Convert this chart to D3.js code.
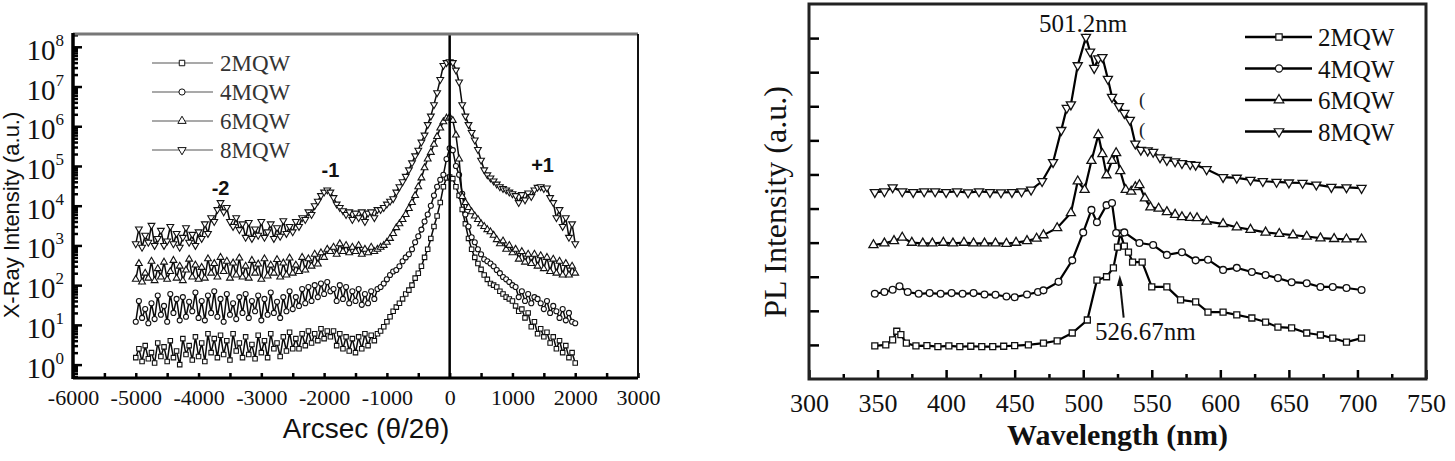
<!DOCTYPE html>
<html>
<head>
<meta charset="utf-8">
<script src="https://cdn.jsdelivr.net/npm/d3@7"></script>
<style>
  body { margin: 0; background: #fff; }
  svg { display: block; }
</style>
</head>
<body>
<svg id="chart" width="1455" height="461"></svg>
<script>
// ---------- left panel: XRD scans (arcsec vs intensity, log) ----------
const arcsec = [
  -5000,-4950,-4900,-4850,-4800,-4750,-4700,-4650,-4600,-4550,-4500,-4450,-4400,-4350,-4300,-4250,-4200,-4150,-4100,-4050,-4000,
  -3950,-3900,-3850,-3800,-3750,-3700,-3650,-3600,-3550,-3500,-3450,-3400,-3350,-3300,
  -3250,-3200,-3150,-3100,-3050,-3000,-2950,-2900,-2850,-2800,-2750,-2700,-2650,-2600,-2550,-2500,
  -2450,-2400,-2350,-2300,-2250,-2200,-2150,-2100,-2050,-2000,-1950,-1900,
  -1850,-1800,-1750,-1700,-1650,-1600,-1550,-1500,-1450,-1400,-1350,-1300,-1250,-1200,-1150,-1100,
  -1050,-1000,-950,-900,-850,-800,-750,-700,-650,-600,-550,-500,-450,-400,-350,-300,-250,-200,-150,-100,-50,0,
  50,100,150,200,250,300,350,400,450,500,550,600,650,700,750,800,850,900,950,1000,
  1050,1100,1150,1200,1250,1300,1350,1400,1450,1500,1550,1600,1650,1700,1750,1800,1850,1900,1950,2000
];
const xrd2 = [
  1.5,2.5,1.2,3,1.4,2,1.1,3.5,1.6,2.8,1.2,4,1.5,2.2,1,4.5,1.8,3,1.3,5,1.6,
  3.5,1.2,6,2,4.5,1.5,5.5,1.8,4,1.3,6,2.2,3.5,1.5,
  5,1.8,3.2,1.4,5.5,2,4,1.5,6,2.5,3.5,1.6,5,2.2,6.5,2.5,
  4.5,2.5,6,3,7,3.5,6,4,8,4.5,7,5,
  7,3,6,2.5,5,2.2,4.5,2,5,2.5,6,3,5.5,4,6,7,
  9,12,16,22,28,35,45,60,75,100,150,200,300,500,800,1.5e3,3e3,5.5e3,1.2e4,3e4,5e4,5.3e4,
  4.8e4,3e4,1.8e4,8e3,3.5e3,1.5e3,800,500,350,250,180,140,110,100,90,70,60,50,45,40,
  30,22,25,15,20,9,12,6,8,5,6.5,3.5,5,2.5,4,2,3,1.5,2,1.1
];
const xrd4 = [
  12,40,15,25,11,35,14,55,18,30,12,60,20,45,13,50,16,38,22,65,15,
  40,13,55,20,70,16,45,12,60,18,35,14,50,20,
  60,15,40,22,55,13,45,18,65,20,38,15,50,22,70,25,
  50,30,80,35,90,40,100,50,110,60,120,70,
  80,40,100,45,90,35,70,40,80,32,60,35,70,45,80,90,
  110,140,180,220,240,300,400,500,600,800,1.2e3,1.7e3,2.5e3,4e3,6e3,1e4,1.8e4,3e4,4.5e4,6e4,1.5e5,2.8e5,
  2.5e5,1e5,6e4,2e4,6e3,3e3,1.6e3,1.2e3,800,600,450,400,350,300,240,200,160,140,120,100,
  90,50,70,40,60,35,50,45,35,25,40,20,30,22,15,25,13,20,12,11
];
const xrd6 = [
  140,350,120,200,150,400,130,260,160,380,140,220,420,150,300,130,240,450,160,320,140,
  280,150,460,200,350,160,500,220,400,150,360,180,480,160,
  300,150,420,200,340,140,460,170,320,200,440,160,360,180,480,200,
  320,220,500,240,460,300,600,340,650,500,800,700,
  900,600,1.1e3,700,1e3,650,900,700,1e3,600,800,650,900,700,800,900,
  1e3,1.2e3,1.5e3,2e3,2.8e3,3.5e3,4.5e3,6e3,8.5e3,1.2e4,1.8e4,3e4,5e4,9e4,1.5e5,2.2e5,3.5e5,5.5e5,9e5,1.3e6,1.6e6,1.7e6,
  1.4e6,6e5,1.5e5,1.7e4,1.2e4,9e3,7e3,5.5e3,4.5e3,3.5e3,3e3,2.5e3,2.2e3,1.8e3,1.4e3,1.1e3,1.3e3,800,1e3,650,
  800,450,700,380,600,350,600,300,550,260,500,220,450,200,400,180,350,180,300,200
];
const xrd8 = [
  1.1e3,2.6e3,900,1.8e3,1.2e3,3.2e3,1e3,1.5e3,2.4e3,1e3,1.3e3,3e3,1.1e3,2e3,900,1.6e3,2.8e3,1.2e3,1.9e3,1e3,2.2e3,
  1.5e3,3.5e3,2e3,5e3,4e3,8e3,1.2e4,7e3,9e3,4e3,3e3,5e3,2.5e3,3.5e3,
  1.6e3,3.8e3,1.5e3,2.6e3,1.8e3,4e3,1.6e3,2.2e3,3.5e3,1.5e3,2.8e3,1.7e3,4.2e3,2e3,3e3,2.2e3,
  4e3,3e3,5e3,4.5e3,7e3,6e3,1e4,1.3e4,1.8e4,2.2e4,2.5e4,2.2e4,
  1.6e4,1.1e4,9e3,7.5e3,6e3,7e3,4.5e3,6.5e3,5e3,7e3,4e3,6.5e3,7e3,5e3,8e3,8e3,
  9e3,1.1e4,1.3e4,1.5e4,2.2e4,3e4,4e4,5.5e4,8e4,1.2e5,1.8e5,2.5e5,4e5,6e5,1.1e6,1.8e6,3.5e6,7e6,1.5e7,3.4e7,4e7,4.2e7,
  4e7,2.6e7,1.3e7,3.5e6,1.8e6,1.1e6,7e5,4.5e5,2.6e5,1.4e5,8e4,6e4,5e4,4.2e4,3.5e4,3e4,2.7e4,2.5e4,2.2e4,2e4,
  1.8e4,1.2e4,1.9e4,1.4e4,2.1e4,1.7e4,2.5e4,2.9e4,3e4,2.7e4,2.8e4,1.6e4,1.2e4,5e3,8e3,3e3,5e3,1.6e3,3.5e3,1.1e3
];
const xrdTicks = [-6000, -5000, -4000, -3000, -2000, -1000, 0, 1000, 2000, 3000];
const xrdMinorTicks = [-5500, -4500, -3500, -2500, -1500, -500, 500, 1500, 2500];
const xrdPeaks = [
  {label: '-2', a: -3650, v: 1.85e4},
  {label: '-1', a: -1900, v: 5.3e4},
  {label: '+1', a: 1480, v: 7e4}
];

// ---------- right panel: PL spectra (offset) ----------
const wl2 = [348,356,361,364,367,371,378,386,394,402,410,418,426,434,442,450,460,471,481,492,503,510,517,522,525,527,530,533,536,543,550,561,571,582,591,602,612,623,633,642,652,663,673,682,692,703];
const pl2 = [0.97,1.0,1.15,1.4,1.3,1.05,0.97,0.98,0.95,0.97,0.95,0.96,0.95,0.95,0.96,0.98,1.0,1.05,1.12,1.35,1.73,2.9,3.0,3.26,3.87,4.28,3.9,3.72,3.43,3.43,2.7,2.7,2.32,2.26,1.96,1.96,1.88,1.79,1.67,1.52,1.5,1.35,1.29,1.2,1.08,1.2];
const wl4 = [348,355,361,366,372,380,388,396,404,412,420,428,436,444,450,459,467,471,482,492,500,506,510,517,521,524,530,541,551,561,572,582,591,602,612,623,633,642,652,663,673,682,692,703];
const pl4 = [2.5,2.55,2.62,2.72,2.55,2.5,2.52,2.5,2.52,2.5,2.52,2.48,2.47,2.42,2.4,2.48,2.55,2.6,2.85,3.48,4.3,4.96,4.6,5.1,5.16,4.28,4.3,3.99,3.93,3.64,3.72,3.48,3.5,3.2,3.26,3.14,3.05,2.96,2.84,2.81,2.7,2.7,2.67,2.61];
const wl6 = [347,355,362,368,375,383,390,398,405,413,420,428,436,444,451,459,466,471,481,491,496,501,506,511,514,517,521,524,527,531,535,538,541,545,549,555,561,567,572,578,583,590,602,612,622,633,643,653,663,673,683,692,703];
const pl6 = [3.93,3.98,4.05,4.15,4.0,3.98,3.98,4.0,3.98,4.0,3.98,3.98,3.98,3.97,4.0,4.05,4.12,4.22,4.43,4.87,5.8,5.55,6.4,7.16,6.6,5.98,6.4,6.63,6.1,5.55,5.5,5.63,5.69,5.3,5.04,5.0,4.9,4.82,4.75,4.73,4.72,4.62,4.55,4.45,4.38,4.3,4.26,4.22,4.18,4.13,4.11,4.1,4.1];
const wl8 = [348,355,361,368,376,384,392,400,408,416,424,432,440,448,455,462,470,478,484,488,491,496,502,505,508,511,514,518,521,526,530,534,538,542,547,551,556,561,567,572,578,582,590,602,612,622,631,641,650,660,670,681,692,703];
const pl8 = [5.48,5.5,5.62,5.5,5.48,5.5,5.5,5.48,5.5,5.47,5.5,5.48,5.47,5.48,5.5,5.55,5.8,6.36,7.3,7.95,8.05,9.2,10.03,9.6,9.12,9.4,9.44,8.8,8.27,8.0,7.8,7.6,6.9,6.72,6.7,6.66,6.5,6.42,6.38,6.33,6.3,6.28,6.15,5.92,5.9,5.84,5.8,5.78,5.76,5.75,5.7,5.63,5.62,5.6];
const plTicks = [300, 350, 400, 450, 500, 550, 600, 650, 700, 750];
const plMinorTicks = [325, 375, 425, 475, 525, 575, 625, 675, 725];
const plYTicks = [1, 2, 3, 4, 5, 6, 7, 8, 9, 10];

const seriesNames = ['2MQW', '4MQW', '6MQW', '8MQW'];

const serif = '"Liberation Serif", "Times New Roman", serif';
const sans = '"Liberation Sans", Arial, sans-serif';
const svg = d3.select('#chart');

// symbol shapes: square, circle, up triangle, down triangle
function symbolPath(k, size) {
    const types = [d3.symbolSquare, d3.symbolCircle, d3.symbolTriangle, d3.symbolTriangle];
    return d3.symbol().type(types[k]).size(size)();
}
function drawMarker(g, k, x, y, size, sw) {
    g.append('path')
        .attr('d', symbolPath(k, size))
        .attr('transform', 'translate(' + x + ',' + y + ')' + (k === 3 ? ' rotate(180)' : ''))
        .attr('fill', '#fff')
        .attr('stroke', '#111')
        .attr('stroke-width', sw);
}

// =================== LEFT PANEL ===================
const L = {left: 73, right: 638, top: 34, bottom: 378};
const xL = d3.scaleLinear().domain([-6000, 3000]).range([L.left, L.right]);
const yL = d3.scaleLog().domain([0.46, 2.1e8]).range([L.bottom, L.top]);
const gl = svg.append('g');

const xrdSeries = [xrd2, xrd4, xrd6, xrd8];
const lineL = d3.line().x(d => xL(d[0])).y(d => yL(d[1]));
xrdSeries.forEach((vals, k) => {
    const pts = arcsec.map((a, i) => [a, vals[i]]);
    gl.append('path')
        .attr('d', lineL(pts))
        .attr('fill', 'none')
        .attr('stroke', '#0a0a0a')
        .attr('stroke-width', 1.5);
    const mg = gl.append('g');
    pts.forEach((p, i) => {
        drawMarker(mg, k, xL(p[0]), yL(p[1]), 20, 1.1);
    });
});

// zero line
gl.append('line')
    .attr('x1', xL(0)).attr('x2', xL(0))
    .attr('y1', L.top).attr('y2', L.bottom)
    .attr('stroke', '#000').attr('stroke-width', 2.5);

// axes
const yTicksAll = yL.ticks();
const yMajor = yTicksAll.filter(d => Math.abs(Math.log10(d) - Math.round(Math.log10(d))) < 1e-9);
const yMinor = yTicksAll.filter(d => yMajor.indexOf(d) < 0);

const axL = gl.append('g').attr('transform', 'translate(' + L.left + ',0)');
axL.call(d3.axisLeft(yL).tickValues(yMajor).tickSize(-9).tickFormat(''));
axL.append('g').call(d3.axisLeft(yL).tickValues(yMinor).tickSize(-5).tickFormat(''));
axL.selectAll('.domain').remove();
axL.selectAll('line').attr('stroke', '#000').attr('stroke-width', 2.5);
yMajor.forEach(d => {
    const t = gl.append('text')
        .attr('x', L.left - 9)
        .attr('y', yL(d) + 13)
        .attr('text-anchor', 'end')
        .style('font-family', serif)
        .style('font-size', '29px')
        .attr('fill', '#111');
    t.append('tspan').text('10');
    t.append('tspan').attr('dy', -14).style('font-size', '17px').text(Math.round(Math.log10(d)));
});

const axLb = gl.append('g').attr('transform', 'translate(0,' + L.bottom + ')');
axLb.call(d3.axisBottom(xL).tickValues(xrdTicks).tickSize(-5).tickFormat(d => String(d)));
axLb.append('g').call(d3.axisBottom(xL).tickValues(xrdMinorTicks).tickSize(-5).tickFormat(''));
axLb.selectAll('.domain').remove();
axLb.selectAll('line').attr('stroke', '#000').attr('stroke-width', 2.5);
axLb.selectAll('text')
    .attr('y', 27).attr('dy', null)
    .style('font-family', serif).style('font-size', '22px').attr('fill', '#111');

// frame
gl.append('line').attr('x1', L.left).attr('x2', L.right).attr('y1', L.top).attr('y2', L.top)
    .attr('stroke', '#777').attr('stroke-width', 3);
gl.append('line').attr('x1', L.right).attr('x2', L.right).attr('y1', L.top).attr('y2', L.bottom)
    .attr('stroke', '#111').attr('stroke-width', 2);
gl.append('line').attr('x1', L.left).attr('x2', L.left).attr('y1', L.top - 1).attr('y2', L.bottom + 1)
    .attr('stroke', '#000').attr('stroke-width', 3.5);
gl.append('line').attr('x1', L.left).attr('x2', L.right).attr('y1', L.bottom).attr('y2', L.bottom)
    .attr('stroke', '#000').attr('stroke-width', 3);

// peak labels
xrdPeaks.forEach(p => {
    gl.append('text')
        .attr('x', xL(p.a)).attr('y', yL(p.v))
        .attr('text-anchor', 'middle')
        .style('font-family', sans).attr('font-weight', 'bold').style('font-size', '20px')
        .attr('fill', '#111')
        .text(p.label);
});

// legend
seriesNames.forEach((name, k) => {
    const yy = 63 + k * 29;
    gl.append('line').attr('x1', 152).attr('x2', 213).attr('y1', yy).attr('y2', yy)
        .attr('stroke', '#555').attr('stroke-width', 1.2);
    drawMarker(gl, k, 182, yy, 30, 1);
    gl.append('text').attr('x', 220).attr('y', yy + 8)
        .style('font-family', serif).style('font-size', '23px').attr('fill', '#333')
        .text(name);
});

// titles
gl.append('text')
    .attr('x', 366).attr('y', 438)
    .attr('text-anchor', 'middle')
    .style('font-family', sans).style('font-size', '28px').attr('fill', '#111')
    .text('Arcsec (θ/2θ)');
gl.append('text')
    .attr('transform', 'translate(19,215) rotate(-90)')
    .attr('text-anchor', 'middle')
    .style('font-family', sans).style('font-size', '22px').attr('fill', '#111')
    .text('X-Ray Intensity (a.u.)');

// =================== RIGHT PANEL ===================
const R = {left: 809, right: 1426, top: 4, bottom: 379};
const xR = d3.scaleLinear().domain([300, 750]).range([R.left, R.right]);
const yR = d3.scaleLinear().domain([0, 11]).range([R.bottom, R.top]);
const gr = svg.append('g');

const plSeries = [[wl2, pl2], [wl4, pl4], [wl6, pl6], [wl8, pl8]];
const lineR = d3.line().x(d => xR(d[0])).y(d => yR(d[1]));
plSeries.forEach((s, k) => {
    const pts = s[0].map((w, i) => [w, s[1][i]]);
    gr.append('path')
        .attr('d', lineR(pts))
        .attr('fill', 'none')
        .attr('stroke', '#000')
        .attr('stroke-width', 2.2);
    const mg = gr.append('g');
    pts.forEach(p => drawMarker(mg, k, xR(p[0]), yR(p[1]), 36, 1.3));
});

// axes
const axRb = gr.append('g').attr('transform', 'translate(0,' + R.bottom + ')');
axRb.call(d3.axisBottom(xR).tickValues(plTicks).tickSize(-9).tickFormat(d => String(d)));
axRb.append('g').call(d3.axisBottom(xR).tickValues(plMinorTicks).tickSize(-5).tickFormat(''));
axRb.selectAll('.domain').remove();
axRb.selectAll('line').attr('stroke', '#000').attr('stroke-width', 2.5);
axRb.selectAll('text')
    .attr('y', 33).attr('dy', null)
    .style('font-family', serif).style('font-size', '26px').attr('fill', '#111');

const axRl = gr.append('g').attr('transform', 'translate(' + R.left + ',0)');
axRl.call(d3.axisLeft(yR).tickValues(plYTicks).tickSize(-10).tickFormat(''));
axRl.selectAll('.domain').remove();
axRl.selectAll('line').attr('stroke', '#000').attr('stroke-width', 2.5);

// frame
gr.append('rect')
    .attr('x', R.left).attr('y', R.top)
    .attr('width', R.right - R.left).attr('height', R.bottom - R.top)
    .attr('fill', 'none').attr('stroke', '#222').attr('stroke-width', 3);

// annotations
gr.append('text')
    .attr('x', xR(500)).attr('y', yR(10.18))
    .attr('text-anchor', 'middle')
    .style('font-family', serif).style('font-size', '25px').attr('fill', '#111')
    .text('501.2nm');
gr.append('text')
    .attr('x', xR(508.6)).attr('y', yR(1.14))
    .style('font-family', serif).style('font-size', '25px').attr('fill', '#111')
    .text('526.67nm');
const ax0 = xR(529.5), ay0 = yR(1.8), ax1 = xR(526.67), ay1 = yR(3.05);
gr.append('line')
    .attr('x1', ax0).attr('y1', ay0).attr('x2', ax1).attr('y2', ay1 + 6)
    .attr('stroke', '#111').attr('stroke-width', 2);
gr.append('path')
    .attr('d', 'M' + ax1 + ',' + ay1 + 'L' + (ax1 - 3) + ',' + (ay1 + 11) + 'L' + (ax1 + 3.5) + ',' + (ay1 + 11) + 'Z')
    .attr('fill', '#111');
[8.18, 7.3].forEach(v => {
    gr.append('text')
        .attr('x', xR(543)).attr('y', yR(v) + 6)
        .attr('text-anchor', 'middle')
        .style('font-family', serif).style('font-size', '19px').attr('fill', '#222')
        .text('(');
});

// legend
seriesNames.forEach((name, k) => {
    const yy = 37 + k * 31.5;
    gr.append('line').attr('x1', 1245).attr('x2', 1312).attr('y1', yy).attr('y2', yy)
        .attr('stroke', '#000').attr('stroke-width', 2.5);
    drawMarker(gr, k, 1279, yy, 40, 1.2);
    gr.append('text').attr('x', 1318).attr('y', yy + 9)
        .style('font-family', serif).style('font-size', '25px').attr('fill', '#111')
        .text(name);
});

// titles
gr.append('text')
    .attr('x', (R.left + R.right) / 2).attr('y', 445)
    .attr('text-anchor', 'middle')
    .style('font-family', serif).attr('font-weight', 'bold').style('font-size', '30px').attr('fill', '#111')
    .text('Wavelength (nm)');
gr.append('text')
    .attr('transform', 'translate(786,202) rotate(-90)')
    .attr('text-anchor', 'middle')
    .style('font-family', serif).style('font-size', '32px').attr('fill', '#111')
    .text('PL Intensity (a.u.)');
</script>
</body>
</html>
